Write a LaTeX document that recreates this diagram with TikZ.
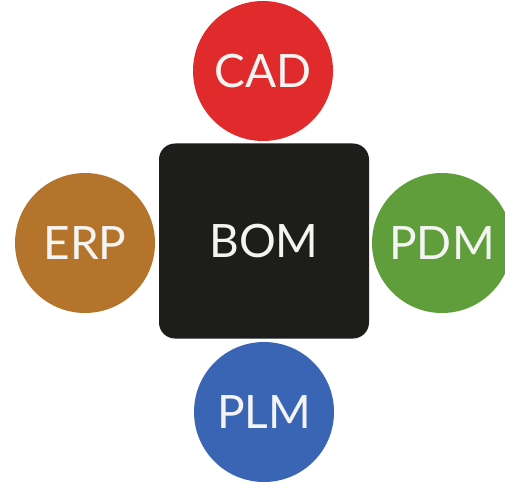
\documentclass[tikz,border=0pt]{standalone}
\usepackage{fontspec}
\setmainfont{Lato}
\definecolor{cadred}{HTML}{E12A2B}
\definecolor{erpbrown}{HTML}{B4742B}
\definecolor{pdmgreen}{HTML}{5F9E3B}
\definecolor{plmblue}{HTML}{3A64B4}
\definecolor{bomblack}{HTML}{1D1D1B}
\definecolor{txt}{HTML}{F4F4F2}
\begin{document}
\begin{tikzpicture}[x=1pt,y=-1pt,
  disc/.style={circle,minimum size=140pt,inner sep=0pt,text=txt,font=\fontsize{46}{46}\selectfont},
  core/.style={fill=bomblack,rounded corners=16pt,minimum width=210pt,minimum height=195pt,inner sep=0pt,text=txt,font=\fontsize{46}{46}\selectfont}]
\path[use as bounding box,fill=white] (0,0) rectangle (505,481);
\node[core] (bom) at (264,241) {BOM};
\node[disc,fill=cadred] (cad) at (263,71) {CAD};
\node[disc,fill=erpbrown] (erp) at (85,243) {ERP};
\node[disc,fill=pdmgreen] (pdm) at (442,243) {PDM};
\node[disc,fill=plmblue] (plm) at (264,412) {PLM};
\end{tikzpicture}
\end{document}
